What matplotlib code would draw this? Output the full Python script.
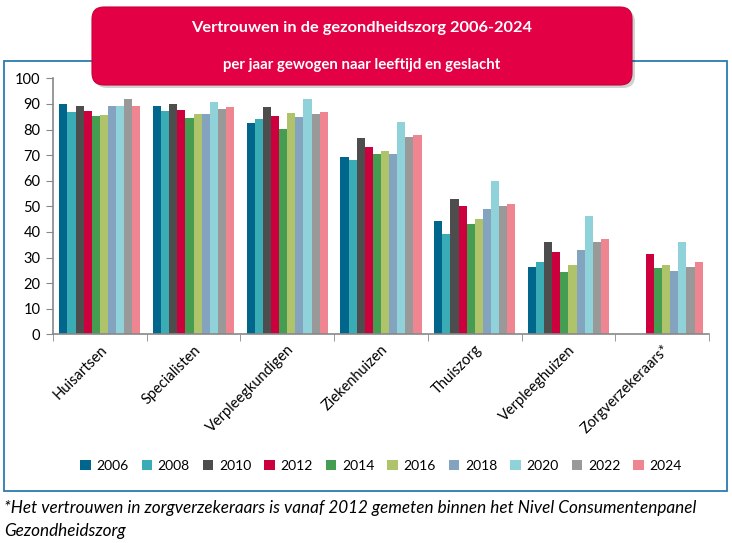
import numpy as np
import matplotlib
matplotlib.use("Agg")
import matplotlib.pyplot as plt
from matplotlib.patches import FancyBboxPatch, Rectangle

plt.rcParams['font.family'] = ['Lato', 'DejaVu Sans']

categories = ["Huisartsen", "Specialisten", "Verpleegkundigen", "Ziekenhuizen",
              "Thuiszorg", "Verpleeghuizen", "Zorgverzekeraars*"]
years = ["2006", "2008", "2010", "2012", "2014", "2016", "2018", "2020", "2022", "2024"]

# rows = categories, columns = years (NaN = not measured)
nan = np.nan
values = [
    [90.0, 87.0, 89.0, 87.3, 85.4, 85.8, 89.0, 89.0, 92.0, 89.0],   # Huisartsen
    [89.3, 87.3, 90.0, 87.6, 84.5, 86.1, 86.1, 90.8, 88.1, 88.9],   # Specialisten
    [82.5, 84.1, 88.8, 85.4, 80.2, 86.5, 84.9, 92.0, 86.1, 86.9],   # Verpleegkundigen
    [69.3, 68.1, 76.7, 73.2, 70.4, 71.6, 70.4, 82.9, 77.1, 77.9],   # Ziekenhuizen
    [44.3, 39.2, 52.9, 50.1, 43.1, 45.0, 48.9, 59.9, 50.1, 50.9],   # Thuiszorg
    [26.3, 28.2, 36.0, 32.1, 24.3, 27.1, 32.9, 46.2, 36.0, 37.2],   # Verpleeghuizen
    [nan, nan, nan, 31.4, 25.9, 27.1, 24.7, 36.0, 26.3, 28.2],      # Zorgverzekeraars
]

colors = ["#00668C", "#3AACB5", "#4D4D4D", "#CC003D", "#449D51",
          "#AFC46A", "#84A3BE", "#8FD2D9", "#999999", "#EE8590"]

data = np.array(values)

fig = plt.figure(figsize=(7.32, 5.43), dpi=100)
ax = fig.add_axes([53 / 732, 1 - 334.3 / 543, 656 / 732, 256 / 543])

x = np.arange(len(categories))
w = 0.0865
for i, yr in enumerate(years):
    ax.bar(x + (i - 4.5) * w, data[:, i], width=w, color=colors[i], label=yr, zorder=2)

ax.set_xlim(-0.5, len(categories) - 0.5)
ax.set_ylim(0, 100)
ax.set_yticks(range(0, 101, 10))
ax.set_xticks(x)
ax.set_xticklabels(categories, rotation=45, ha='right', va='top', rotation_mode='anchor', fontsize=10.5)
ax.set_xticks(np.arange(-0.5, len(categories), 1), minor=True)
ax.tick_params(axis='x', which='major', length=0, pad=6)
ax.tick_params(axis='x', which='minor', length=5, color='#888888', direction='out')
ax.tick_params(axis='y', length=5, color='#888888', labelsize=10.5, pad=4)
for s in ['top', 'right']:
    ax.spines[s].set_visible(False)
for s in ['left', 'bottom']:
    ax.spines[s].set_color('#888888')
    ax.spines[s].set_linewidth(1.2)

handles, labels = ax.get_legend_handles_labels()
fig.legend(handles, labels, loc='center', bbox_to_anchor=(381 / 732, 1 - 466 / 543),
           ncol=10, frameon=False, fontsize=10, handlelength=0.75, handleheight=0.75,
           handletextpad=0.4, columnspacing=0.95)

# overlay in pixel coordinates for frame, title box and footnote
ov = fig.add_axes([0, 0, 1, 1], zorder=5)
ov.set_xlim(0, 732)
ov.set_ylim(543, 0)
ov.axis('off')
ov.patch.set_alpha(0)

ov.add_patch(Rectangle((4, 61), 723, 430, fill=False, edgecolor='#2C7BB0', linewidth=1.3))

ov.add_patch(FancyBboxPatch((95, 10), 540, 78, boxstyle="round,pad=0,rounding_size=12",
                            facecolor='#000000', alpha=0.18, edgecolor='none'))
ov.add_patch(FancyBboxPatch((92, 7), 540, 78, boxstyle="round,pad=0,rounding_size=12",
                            facecolor='#E30045', edgecolor='#C8003C', linewidth=0.8))
ov.text(362, 28, "Vertrouwen in de gezondheidszorg 2006-2024", color='white',
        fontsize=11.8, fontweight='bold', ha='center', va='center')
ov.text(362, 65, "per jaar gewogen naar leeftijd en geslacht", color='white',
        fontsize=10.8, fontweight='bold', ha='center', va='center')

ov.text(4, 508, "*Het vertrouwen in zorgverzekeraars is vanaf 2012 gemeten binnen het Nivel Consumentenpanel",
        fontsize=12.3, style='italic', ha='left', va='center')
ov.text(4, 531, "Gezondheidszorg", fontsize=12.3, style='italic', ha='left', va='center')

fig.savefig("out.png", dpi=100)
